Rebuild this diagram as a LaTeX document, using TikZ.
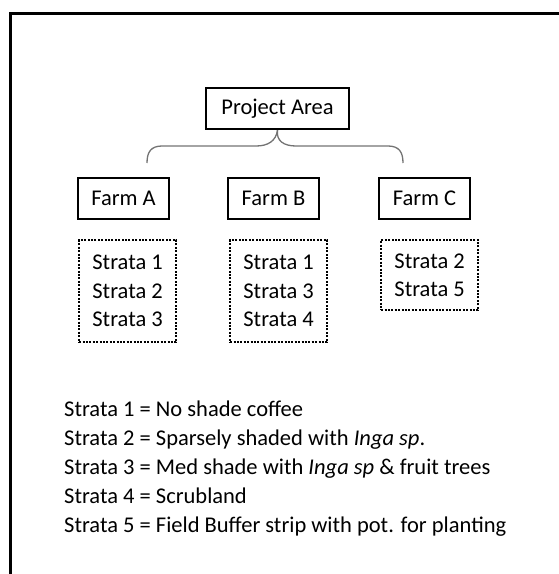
\documentclass[tikz,border=0pt]{standalone}
\usepackage{fontspec}
\setmainfont{Carlito}
\usetikzlibrary{positioning}
\tikzstyle{box}=[draw,line width=2.2pt,minimum height=41pt,inner sep=0pt]
\tikzstyle{strata box}=[draw,line width=2.2pt,dash pattern=on 2pt off 1.4pt,align=left,anchor=north west,inner xsep=10pt,inner ysep=6pt]
\tikzstyle{brace}=[draw,line width=1.3pt,color=black!55]
\tikzstyle{legend}=[anchor=base west,inner sep=0pt]

\begin{document}
\begin{tikzpicture}[x=1pt,y=-1pt,font=\fontsize{22.5}{28.5}\selectfont]
    \useasboundingbox (0,0) rectangle (559,574);
    % frame
    \draw[line width=3pt] (10.5,574) -- (10.5,13.5) -- (559,13.5);

    % top and farms
    \node[box,minimum width=143pt] (proj) at (277.5,108.5) {Project Area};
    \foreach \name/\x/\txt in {farmA/123.5/Farm A, farmB/273.5/Farm B, farmC/424.5/Farm C}
        \node[box,minimum width=91pt] (\name) at (\x,198.5) {\txt};

    % strata under each farm
    \node[strata box,minimum width=97pt,minimum height=102pt] (strA) at (78,239) {Strata 1\\Strata 2\\Strata 3};
    \node[strata box,minimum width=97pt,minimum height=102pt] (strB) at (229,239) {Strata 1\\Strata 3\\Strata 4};
    \node[strata box,minimum width=97pt,minimum height=70pt] (strC) at (380,239) {Strata 2\\Strata 5};

    % brace
    \coordinate (brL) at (147,163);
    \coordinate (brR) at (403,163);
    \path[brace] (proj.south) .. controls (276,141) and (268,146) .. (256,146) -- (162,146) .. controls (151,146) and (147,152) .. (brL);
    \path[brace] (proj.south) .. controls (276,141) and (284,146) .. (296,146) -- (388,146) .. controls (399,146) and (403,152) .. (brR);

    % key
    \node[legend] (key1) at (64,416) {Strata 1 = No shade coffee};
    \node[legend] (key2) at (64,445) {Strata 2 = Sparsely shaded with \textit{Inga sp}.};
    \node[legend] (key3) at (64,474) {Strata 3 = Med shade with \textit{Inga sp} \& fruit trees};
    \node[legend] (key4) at (64,503) {Strata 4 = Scrubland};
    \node[legend] (key5) at (64,532) {Strata 5 = Field Buffer strip with pot. for planting};
\end{tikzpicture}
\end{document}
